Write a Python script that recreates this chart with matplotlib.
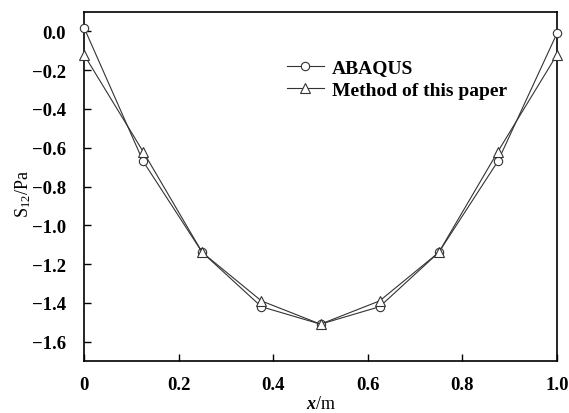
import matplotlib.pyplot as plt
from matplotlib.ticker import FixedLocator

# Data
x_pos = [0.0, 0.125, 0.25, 0.375, 0.5, 0.625, 0.75, 0.875, 1.0]
s12_abaqus = [0.02, -0.67, -1.14, -1.42, -1.51, -1.42, -1.14, -0.67, -0.01]
s12_method = [-0.12, -0.62, -1.14, -1.39, -1.51, -1.39, -1.14, -0.62, -0.12]

plt.rcParams['font.family'] = ['Liberation Serif', 'DejaVu Serif']
plt.rcParams['mathtext.fontset'] = 'custom'
plt.rcParams['mathtext.rm'] = 'Liberation Serif'
plt.rcParams['mathtext.it'] = 'Liberation Serif:italic:bold'
plt.rcParams['mathtext.bf'] = 'Liberation Serif:bold'

fig = plt.figure(figsize=(5.69, 4.14), dpi=100)
ax = fig.add_axes([84 / 569, 1 - 362 / 414, (557 - 84) / 569, (362 - 13) / 414])

lc = '#333333'
ax.plot(x_pos, s12_abaqus, color=lc, lw=0.8, marker='o', ms=6,
        mfc='white', mec=lc, mew=0.8, label='ABAQUS', clip_on=False, zorder=3)
ax.plot(x_pos, s12_method, color=lc, lw=0.8, marker='^', ms=6.5,
        mfc='white', mec=lc, mew=0.8, label='Method of this paper', clip_on=False, zorder=3)

ax.set_xlim(0, 1.0)
ax.set_ylim(-1.7, 0.1)
ax.xaxis.set_major_locator(FixedLocator([0, 0.2, 0.4, 0.6, 0.8, 1.0]))
ax.yaxis.set_major_locator(FixedLocator([0.0, -0.2, -0.4, -0.6, -0.8, -1.0, -1.2, -1.4, -1.6]))
ax.set_xticklabels(['0', '0.2', '0.4', '0.6', '0.8', '1.0'])
ax.set_yticklabels(['0.0', '\u22120.2', '\u22120.4', '\u22120.6', '\u22120.8',
                    '\u22121.0', '\u22121.2', '\u22121.4', '\u22121.6'])
ax.tick_params(direction='in', length=5, width=1.0, labelsize=13.5,
               top=False, right=False)
ax.tick_params(axis='y', pad=13)
ax.tick_params(axis='x', pad=11)
for lab in ax.get_xticklabels() + ax.get_yticklabels():
    lab.set_fontweight('bold')
for sp in ax.spines.values():
    sp.set_linewidth(1.2)

ax.set_xlabel(r'$\mathit{x}$/m', fontsize=13, labelpad=1)
ax.set_ylabel(r'S$_{12}$/Pa', fontsize=13)
ax.yaxis.set_label_coords(-0.108, 0.48)

leg = ax.legend(loc='upper left', bbox_to_anchor=(0.40, 0.905), frameon=False,
                handlelength=1.9, handletextpad=0.4, borderpad=0.2,
                labelspacing=0.25, prop={'weight': 'bold', 'size': 14})

fig.savefig('out.png', dpi=100)
